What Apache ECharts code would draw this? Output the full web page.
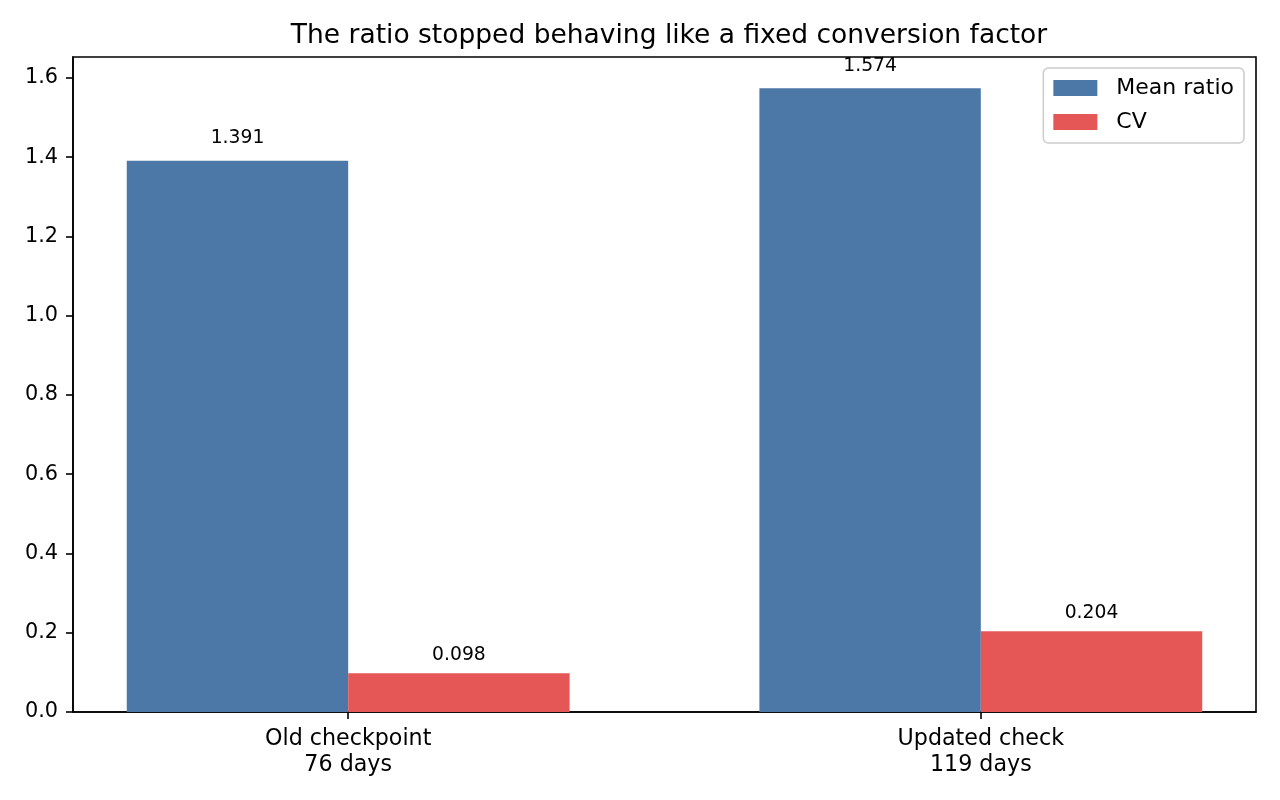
<!DOCTYPE html>
<html>
<head>
<meta charset="utf-8">
<script src="https://cdn.jsdelivr.net/npm/echarts@6/dist/echarts.min.js"></script>
<style>
  html, body { margin: 0; padding: 0; background: #fff; }
  #main { width: 1280px; height: 800px; }
</style>
</head>
<body>
<div id="main"></div>
<script>
// data
var categories = ['Old checkpoint\n76 days', 'Updated check\n119 days'];
var meanRatio = [1.391, 1.574];
var cvValues = [0.098, 0.204];
var yTicks = [0, 0.2, 0.4, 0.6, 0.8, 1.0, 1.2, 1.4, 1.6];
var xTicks = [0, 1];

var FONT = 'DejaVu Sans';
var BLUE = '#4c78a8';
var RED = '#e45756';

// bars sit at category index, matplotlib style margins
var barW = 0.35;
var xMin = -barW - 0.05 * (1 + 2 * barW);
var xMax = 1 + barW + 0.05 * (1 + 2 * barW);
var yMax = Math.max.apply(null, meanRatio) * 1.05;

function toPairs(arr) {
  return arr.map(function (v, i) { return [i, v]; });
}

function barLabel(dist) {
  return {
    show: true, position: 'top', distance: dist,
    fontFamily: FONT, fontSize: 18.75, color: '#000',
    formatter: function (p) { return p.value[1].toFixed(3); }
  };
}

var myChart = echarts.init(document.getElementById('main'));

myChart.setOption({
  animation: false,
  title: {
    text: 'The ratio stopped behaving like a fixed conversion factor',
    left: 664,
    top: 18,
    textAlign: 'center',
    textStyle: { fontFamily: FONT, fontSize: 26.5, fontWeight: 'normal', color: '#000' }
  },
  legend: {
    orient: 'vertical',
    right: 36,
    top: 68,
    icon: 'rect',
    itemWidth: 44,
    itemHeight: 16,
    itemGap: 12,
    padding: [9, 10, 10, 10],
    borderColor: '#cccccc',
    borderWidth: 1.5,
    borderRadius: 5,
    backgroundColor: 'rgba(255,255,255,0.8)',
    textStyle: { fontFamily: FONT, fontSize: 22, color: '#000', padding: [0, 0, 0, 14] },
    data: ['Mean ratio', 'CV']
  },
  grid: {
    left: 73, right: 24, top: 57, bottom: 88,
    show: true,
    borderColor: '#000',
    borderWidth: 1.6,
    backgroundColor: 'transparent'
  },
  xAxis: {
    type: 'value',
    min: xMin,
    max: xMax,
    splitLine: { show: false },
    axisLine: { onZero: false, lineStyle: { color: '#000', width: 1.6 } },
    axisTick: { customValues: xTicks, length: 7, lineStyle: { color: '#000', width: 1.6 } },
    axisLabel: {
      customValues: xTicks,
      margin: 14,
      fontFamily: FONT,
      fontSize: 22.2,
      lineHeight: 26,
      color: '#000',
      formatter: function (v) { return categories[Math.round(v)] || ''; }
    }
  },
  yAxis: {
    type: 'value',
    min: 0,
    max: yMax,
    splitLine: { show: false },
    axisLine: { show: true, onZero: false, lineStyle: { color: '#000', width: 1.6 } },
    axisTick: { show: true, customValues: yTicks, length: 7, lineStyle: { color: '#000', width: 1.6 } },
    axisLabel: {
      customValues: yTicks,
      margin: 15,
      fontFamily: FONT,
      fontSize: 20.8,
      color: '#000',
      formatter: function (v) { return v.toFixed(1); }
    }
  },
  series: [
    {
      name: 'Mean ratio',
      type: 'bar',
      data: toPairs(meanRatio),
      barWidth: (barW * 100) + '%',
      barGap: '0%',
      itemStyle: { color: BLUE },
      label: barLabel(13)
    },
    {
      name: 'CV',
      type: 'bar',
      data: toPairs(cvValues),
      barWidth: (barW * 100) + '%',
      barGap: '0%',
      itemStyle: { color: RED },
      label: barLabel(8.5)
    }
  ]
});
</script>
</body>
</html>
